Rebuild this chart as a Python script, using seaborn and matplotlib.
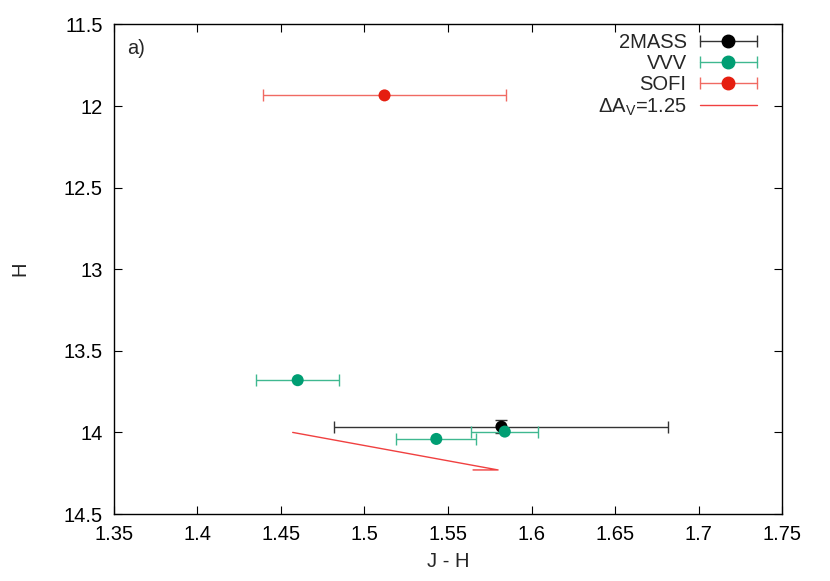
import matplotlib
matplotlib.use('Agg')
import matplotlib.pyplot as plt
import numpy as np
import pandas as pd
import seaborn as sns
from matplotlib.lines import Line2D
from matplotlib.legend_handler import HandlerLine2D, HandlerTuple

# photometry
SURVEYS = ['2MASS', 'VVV', 'VVV', 'VVV', 'SOFI']
JH = [1.582, 1.460, 1.543, 1.584, 1.512]
H = [13.965, 13.68, 14.04, 13.995, 11.935]
JH_ERR = [0.100, 0.025, 0.024, 0.020, 0.073]
H_ERR = [0.04, 0.0, 0.0, 0.0, 0.0]

# extinction vector (Delta A_V = 1.25)
VEC_JH = [1.457, 1.580, 1.565]
VEC_H = [14.00, 14.23, 14.23]

X_TICKS = [1.35, 1.4, 1.45, 1.5, 1.55, 1.6, 1.65, 1.7, 1.75]
Y_TICKS = [11.5, 12, 12.5, 13, 13.5, 14, 14.5]

POINT_COLORS = {'2MASS': '#000000', 'VVV': '#009e73', 'SOFI': '#e51e10'}
BAR_COLORS = {'2MASS': '#333333', 'VVV': '#3fb890', 'SOFI': '#f06a62'}
VEC_COLOR = '#f04040'

FS = 14.5


def main():
    sns.set_style('ticks')
    plt.rcParams['font.family'] = ['Liberation Sans', 'DejaVu Sans']
    plt.rcParams['mathtext.fontset'] = 'custom'
    plt.rcParams['mathtext.rm'] = 'Liberation Sans'
    plt.rcParams['mathtext.it'] = 'Liberation Sans'

    df = pd.DataFrame({'survey': SURVEYS, 'jh': JH, 'h': H,
                       'jh_err': JH_ERR, 'h_err': H_ERR})

    fig, ax = plt.subplots(figsize=(8.30, 5.81), dpi=100)
    fig.subplots_adjust(left=0.1373, right=0.9422, top=0.958, bottom=0.1153)

    for name in ['2MASS', 'VVV', 'SOFI']:
        sub = df[df.survey == name]
        yerr = sub.h_err if sub.h_err.max() > 0 else None
        ax.errorbar(sub.jh, sub.h, xerr=sub.jh_err, yerr=yerr, fmt='none',
                    ecolor=BAR_COLORS[name], elinewidth=1.0, capsize=4,
                    capthick=1.0, zorder=2)

    sns.scatterplot(data=df, x='jh', y='h', hue='survey', palette=POINT_COLORS,
                    s=75, edgecolor='none', legend=False, ax=ax, zorder=3)

    sns.lineplot(x=VEC_JH, y=VEC_H, sort=False, estimator=None,
                 color=VEC_COLOR, lw=1.0, ax=ax, zorder=2)

    ax.set_xlim(1.35, 1.75)
    ax.set_ylim(14.5, 11.5)
    ax.set_xticks(X_TICKS)
    ax.set_yticks(Y_TICKS)
    ax.set_xticklabels([f'{t:g}' for t in X_TICKS])
    ax.set_yticklabels([f'{t:g}' for t in Y_TICKS])
    ax.tick_params(direction='in', length=6, width=0.8, top=True, right=True,
                   labelsize=FS, pad=8, colors='black')
    for sp in ax.spines.values():
        sp.set_linewidth(1.0)
        sp.set_color('black')
    ax.set_xlabel('J - H', fontsize=FS, labelpad=6)
    ax.set_ylabel('H', fontsize=FS, labelpad=25)

    ax.text(0.02, 0.95, 'a)', transform=ax.transAxes, fontsize=FS,
            ha='left', va='center')

    # legend: label left, errorbar sample right (gnuplot style)
    handles = []
    hmap = {}
    for name in ['2MASS', 'VVV', 'SOFI']:
        bar = Line2D([0], [0], color=BAR_COLORS[name], lw=1.0, marker='|',
                     markersize=8, markeredgewidth=1.0)
        dot = Line2D([0], [0], color=POINT_COLORS[name], lw=0, marker='o',
                     markersize=9)
        hmap[bar] = HandlerLine2D(numpoints=2, marker_pad=0)
        hmap[dot] = HandlerLine2D(numpoints=1)
        handles.append((bar, dot))
    vec = Line2D([0], [0], color=VEC_COLOR, lw=1.0)
    handles.append(vec)
    hmap[tuple] = HandlerTuple(ndivide=1)
    labels = ['2MASS', 'VVV', 'SOFI', r'$\Delta$A$_V$=1.25']
    ax.legend(handles, labels, handler_map=hmap, loc='upper right',
              bbox_to_anchor=(0.9626, 0.982), frameon=False, markerfirst=False,
              fontsize=FS, handlelength=2.85, handletextpad=0.65,
              labelspacing=0.1, borderpad=0, borderaxespad=0)

    fig.savefig('out.png', dpi=100)


if __name__ == '__main__':
    main()
